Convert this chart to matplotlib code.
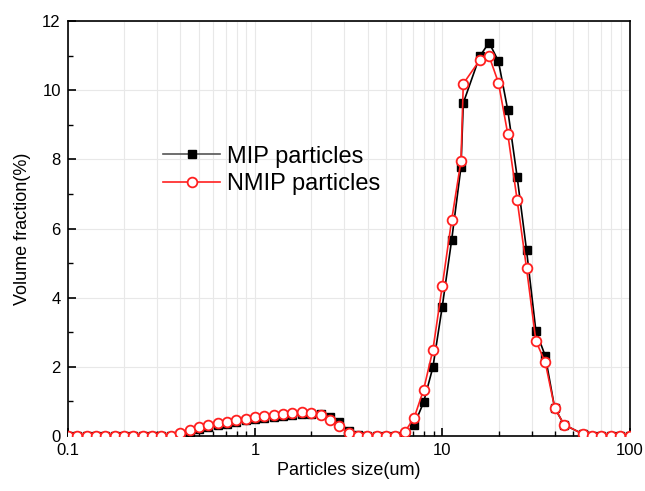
import numpy as np
import matplotlib.pyplot as plt
from matplotlib.ticker import FixedLocator, NullFormatter, MultipleLocator

plt.rcParams['font.family'] = ['Liberation Sans', 'DejaVu Sans']

# particle sizes (um), log bins
size = [0.100, 0.112, 0.126, 0.141, 0.158, 0.178, 0.200, 0.224, 0.251, 0.282,
        0.316, 0.355, 0.398, 0.447, 0.501, 0.562, 0.631, 0.708, 0.794, 0.891,
        1.000, 1.122, 1.259, 1.413, 1.585, 1.778, 1.995, 2.239, 2.512, 2.818,
        3.162, 3.548, 3.981, 4.467, 5.012, 5.623, 6.310, 7.079, 7.943, 8.913,
        10.00, 11.22, 12.59, 12.95, 15.85, 17.78, 19.95, 22.39, 25.12, 28.18,
        31.62, 35.48, 39.81, 44.67, 56.23, 63.10, 70.79, 79.43, 89.13, 100.0]

mip = [0, 0, 0, 0, 0, 0, 0, 0, 0, 0,
       0, 0, 0.07, 0.13, 0.21, 0.27, 0.32, 0.36, 0.41, 0.45,
       0.49, 0.52, 0.55, 0.58, 0.61, 0.63, 0.64, 0.63, 0.55, 0.40,
       0.15, 0.02, 0, 0, 0, 0, 0.03, 0.32, 0.97, 1.99,
       3.74, 5.66, 7.78, 9.63, 10.98, 11.38, 10.84, 9.42, 7.49, 5.38,
       3.04, 2.32, 0.82, 0.33, 0.06, 0, 0, 0, 0, 0]

nmip = [0, 0, 0, 0, 0, 0, 0, 0, 0, 0,
        0, 0, 0.09, 0.16, 0.25, 0.32, 0.37, 0.41, 0.46, 0.50,
        0.54, 0.57, 0.61, 0.64, 0.67, 0.69, 0.67, 0.60, 0.45, 0.28,
        0.08, 0, 0, 0, 0, 0, 0.12, 0.53, 1.33, 2.49,
        4.34, 6.24, 7.96, 10.19, 10.87, 10.99, 10.22, 8.73, 6.82, 4.86,
        2.75, 2.13, 0.82, 0.33, 0.06, 0, 0, 0, 0, 0]

fig = plt.figure(figsize=(6.45, 4.91), dpi=100)
ax = fig.add_axes([0.105, 0.112, 0.871, 0.845])

ax.plot(size, mip, '-s', color='black', lw=1.2, ms=6,
        mfc='black', mec='black', label='MIP particles', zorder=3)
ax.plot(size, nmip, '-o', color='#ff2020', lw=1.2, ms=7,
        mfc='white', mec='#ff2020', mew=1.3, label='NMIP particles', zorder=4)

ax.set_xscale('log')
ax.set_xlim(0.1, 100)
ax.set_ylim(0, 12)

ax.xaxis.set_major_locator(FixedLocator([0.1, 1, 10, 100]))
ax.set_xticklabels(['0.1', '1', '10', '100'])
minors = [m * d for d in [0.1, 1, 10] for m in range(2, 10)]
ax.xaxis.set_minor_locator(FixedLocator(minors))
ax.xaxis.set_minor_formatter(NullFormatter())
ax.yaxis.set_major_locator(MultipleLocator(2))
ax.yaxis.set_minor_locator(MultipleLocator(1))

ax.grid(True, which='both', axis='x', color='#e8e8e8', lw=0.8)
ax.grid(True, which='major', axis='y', color='#e8e8e8', lw=0.8)
ax.set_axisbelow(True)

ax.tick_params(which='both', direction='in', top=False, right=False,
               labelsize=12, pad=5)
ax.tick_params(which='major', length=6, width=1.2)
ax.tick_params(which='minor', length=3.5, width=1.0)
for s in ax.spines.values():
    s.set_linewidth(1.2)

ax.set_xlabel('Particles size(um)', fontsize=13, labelpad=3)
ax.set_ylabel('Volume fraction(%)', fontsize=13, labelpad=8)

leg = ax.legend(loc='upper left', bbox_to_anchor=(0.17, 0.70), frameon=False,
                fontsize=17, handlelength=2.4, labelspacing=0.25,
                handletextpad=0.3, borderpad=0, borderaxespad=0)
leg.get_lines()[0].set_color('#555555')
leg.get_lines()[0].set_markerfacecolor('black')
leg.get_lines()[0].set_markeredgecolor('black')

fig.savefig('out.png', dpi=100)
